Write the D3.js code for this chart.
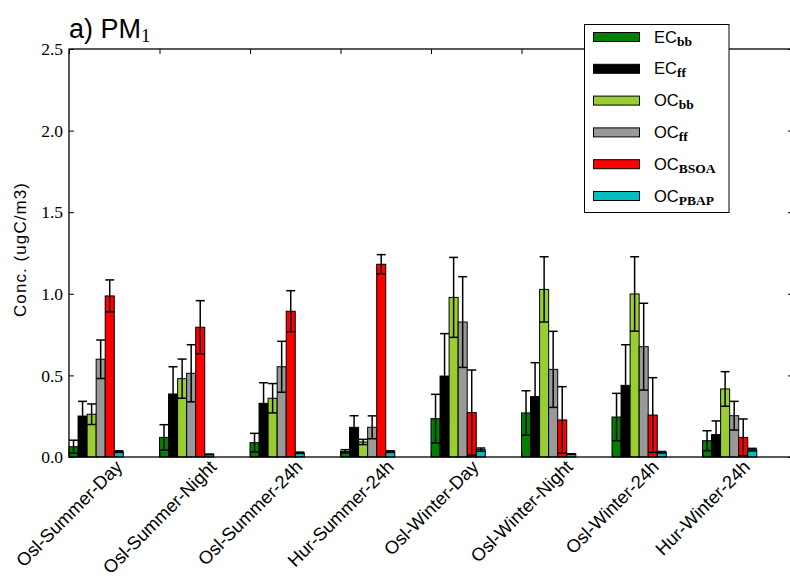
<!DOCTYPE html>
<html>
<head>
<meta charset="utf-8">
<script src="https://cdn.jsdelivr.net/npm/d3@7"></script>
<style>
  body { margin: 0; background: #fff; }
  svg { display: block; }
</style>
</head>
<body>
<svg id="chart" width="790" height="580"></svg>
<script>
// sites / seasons on the x axis
var categories = ["Osl-Summer-Day", "Osl-Summer-Night", "Osl-Summer-24h", "Hur-Summer-24h",
                  "Osl-Winter-Day", "Osl-Winter-Night", "Osl-Winter-24h", "Hur-Winter-24h"];

// source names (main part + subscript)
var seriesNames = [["EC", "bb"], ["EC", "ff"], ["OC", "bb"], ["OC", "ff"], ["OC", "BSOA"], ["OC", "PBAP"]];
var seriesColors = ["#007f00", "#000000", "#9acd32", "#999999", "#ff0000", "#00bfbf"];

// mean concentrations, one array per source
var ecBB   = [0.063, 0.120, 0.088, 0.035, 0.235, 0.270, 0.245, 0.100];
var ecFF   = [0.251, 0.386, 0.329, 0.182, 0.496, 0.370, 0.439, 0.137];
var ocBB   = [0.262, 0.480, 0.360, 0.092, 0.978, 1.027, 0.999, 0.417];
var ocFF   = [0.599, 0.513, 0.553, 0.182, 0.827, 0.537, 0.676, 0.253];
var ocBSOA = [0.987, 0.795, 0.893, 1.181, 0.272, 0.227, 0.257, 0.120];
var ocPBAP = [0.033, 0.016, 0.026, 0.033, 0.045, 0.018, 0.029, 0.045];

// error bar half widths
var ecBBerr   = [0.040, 0.078, 0.057, 0.010, 0.149, 0.136, 0.145, 0.061];
var ecFFerr   = [0.090, 0.167, 0.126, 0.071, 0.260, 0.208, 0.249, 0.084];
var ocBBerr   = [0.063, 0.120, 0.090, 0.016, 0.245, 0.200, 0.228, 0.106];
var ocFFerr   = [0.118, 0.175, 0.156, 0.070, 0.278, 0.233, 0.266, 0.088];
var ocBSOAerr = [0.098, 0.163, 0.126, 0.059, 0.261, 0.204, 0.229, 0.113];
var ocPBAPerr = [0.005, 0.002, 0.004, 0.005, 0.010, 0.002, 0.005, 0.008];

var yTicks = [0.0, 0.5, 1.0, 1.5, 2.0, 2.5];

var values = [ecBB, ecFF, ocBB, ocFF, ocBSOA, ocPBAP];
var errors = [ecBBerr, ecFFerr, ocBBerr, ocFFerr, ocBSOAerr, ocPBAPerr];
var barWidth = 0.1;

var svg = d3.select("#chart");
var sans = "'Liberation Sans', Arial, sans-serif";
var serif = "'Liberation Serif', 'Times New Roman', serif";

// plot area edges (window.top is reserved, so prefixed names)
var plotL = 69, plotR = 793, plotT = 49, plotB = 457;
var x = d3.scaleLinear().domain([0, 8]).range([plotL, plotR]);
var y = d3.scaleLinear().domain([0, 2.5]).range([plotB, plotT]);

// flatten into bar records
var bars = [];
values.forEach(function(arr, s) {
  arr.forEach(function(v, i) {
    bars.push({ s: s, i: i, v: v, e: errors[s][i] });
  });
});

// bars
svg.append("g").selectAll("rect")
  .data(bars)
  .enter()
  .append("rect")
  .attr("x", function(d) { return x(d.i + d.s * barWidth); })
  .attr("width", function(d) { return x(barWidth) - x(0); })
  .attr("y", function(d) { return y(d.v); })
  .attr("height", function(d) { return y(0) - y(d.v); })
  .attr("fill", function(d) { return seriesColors[d.s]; })
  .attr("stroke", "#000")
  .attr("stroke-width", 1);

// error bars
var eb = svg.append("g").attr("stroke", "#000").attr("stroke-width", 1.5).attr("fill", "none")
  .selectAll("g")
  .data(bars)
  .enter()
  .append("g")
  .attr("transform", function(d) { return "translate(" + x(d.i + (d.s + 0.5) * barWidth) + ",0)"; });
eb.append("line")
  .attr("y1", function(d) { return y(d.v - d.e); })
  .attr("y2", function(d) { return y(d.v + d.e); });
eb.append("line").attr("x1", -4.5).attr("x2", 4.5)
  .attr("y1", function(d) { return y(d.v + d.e); })
  .attr("y2", function(d) { return y(d.v + d.e); });
eb.append("line").attr("x1", -4.5).attr("x2", 4.5)
  .attr("y1", function(d) { return y(d.v - d.e); })
  .attr("y2", function(d) { return y(d.v - d.e); });

// axes with inward ticks
var xTickVals = d3.range(0, 8);
var yLeft = svg.append("g").attr("transform", "translate(" + plotL + ",0)")
  .call(d3.axisLeft(y).tickValues(yTicks).tickFormat(d3.format(".1f")).tickSize(-5).tickSizeOuter(0).tickPadding(6));
svg.append("g").attr("transform", "translate(" + plotR + ",0)")
  .call(d3.axisRight(y).tickValues(yTicks).tickFormat("").tickSize(-5).tickSizeOuter(0));
svg.append("g").attr("transform", "translate(0," + plotT + ")")
  .call(d3.axisTop(x).tickValues(xTickVals).tickFormat("").tickSize(-5).tickSizeOuter(0));
svg.append("g").attr("transform", "translate(0," + plotB + ")")
  .call(d3.axisBottom(x).tickValues(xTickVals).tickFormat("").tickSize(-5).tickSizeOuter(0));
svg.selectAll(".domain").remove();
svg.selectAll(".tick line").attr("stroke", "#000").attr("stroke-width", 1);
yLeft.selectAll("text").attr("font-family", serif).attr("font-size", 17.5).attr("fill", "#000");

// frame
svg.append("rect")
  .attr("x", plotL).attr("y", plotT)
  .attr("width", plotR - plotL).attr("height", plotB - plotT)
  .attr("fill", "none").attr("stroke", "#000").attr("stroke-width", 1.3);

// rotated category labels, centred under each tick
var xFont = 18.3;
var xl = svg.append("g").selectAll("text")
  .data(categories)
  .enter()
  .append("text")
  .attr("font-family", sans)
  .attr("font-size", xFont)
  .attr("text-anchor", "middle")
  .attr("dominant-baseline", "central")
  .text(function(d) { return d; });
xl.each(function(d, i) {
  var L = this.getComputedTextLength();
  var cx = x(i), cy = 457 + (L + xFont) / (2 * Math.SQRT2);
  d3.select(this).attr("transform", "translate(" + cx + "," + cy + ") rotate(-45)");
});

// y axis label
svg.append("text")
  .attr("transform", "translate(20," + ((plotT + plotB) / 2 - 3) + ") rotate(-90)")
  .attr("text-anchor", "middle")
  .attr("dominant-baseline", "central")
  .attr("font-family", sans)
  .attr("font-size", 17)
  .attr("textLength", 134)
  .attr("lengthAdjust", "spacing")
  .text("Conc. (ugC/m3)");

// title
var title = svg.append("text").attr("x", 69).attr("y", 38)
  .attr("font-family", sans).attr("font-size", 27).text("a) PM");
title.append("tspan").attr("font-family", serif).attr("font-size", 19).attr("dy", 4).text("1");

// legend
var legend = svg.append("g");
legend.append("rect")
  .attr("x", 584.5).attr("y", 24.5).attr("width", 144.5).attr("height", 188)
  .attr("fill", "#fff").attr("stroke", "#000").attr("stroke-width", 1);
var rows = legend.selectAll("g.row")
  .data(seriesNames)
  .enter()
  .append("g")
  .attr("class", "row")
  .attr("transform", function(d, i) { return "translate(0," + (37 + i * 31.8) + ")"; });
rows.append("rect")
  .attr("x", 593.5).attr("y", -4.5).attr("width", 46).attr("height", 9)
  .attr("fill", function(d, i) { return seriesColors[i]; })
  .attr("stroke", "#000").attr("stroke-width", 1);
var lt = rows.append("text")
  .attr("x", 654).attr("y", 5.5)
  .attr("font-family", sans).attr("font-size", 16.5)
  .text(function(d) { return d[0]; });
lt.append("tspan")
  .attr("font-family", serif).attr("font-weight", "bold").attr("font-size", 13.5)
  .attr("dy", 3)
  .text(function(d) { return d[1]; });
</script>
</body>
</html>
